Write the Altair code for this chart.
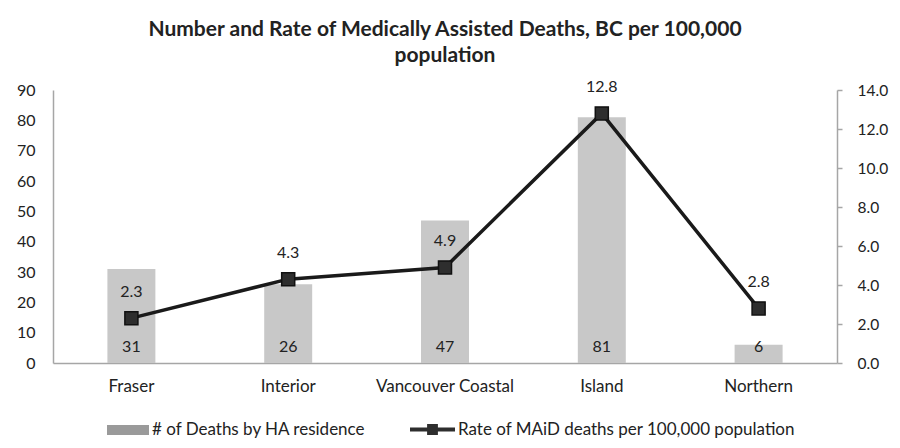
import altair as alt
import pandas as pd

regions = ["Fraser", "Interior", "Vancouver Coastal", "Island", "Northern"]
deaths = [31, 26, 47, 81, 6]
rates = [2.3, 4.3, 4.9, 12.8, 2.8]
left_ticks = [0, 10, 20, 30, 40, 50, 60, 70, 80, 90]
right_ticks = [0, 2, 4, 6, 8, 10, 12, 14]
bar_series = "# of Deaths by HA residence"
line_series = "Rate of MAiD deaths per 100,000 population"
title_lines = ["Number and Rate of Medically Assisted Deaths, BC per 100,000", "population"]

df = pd.DataFrame({"region": regions, "deaths": deaths, "rate": rates})

FONT = "Lato"
TXT = "#222222"
AXC = "#a6a6a6"

x = alt.X(
    "region:N", sort=regions,
    scale=alt.Scale(paddingInner=0.694, paddingOuter=0.347),
    axis=alt.Axis(title=None, labelAngle=0, ticks=False, domainColor=AXC, domainWidth=1.5,
                  labelPadding=15, labelFontSize=17, labelColor=TXT, labelFont=FONT),
)

base = alt.Chart(df).transform_calculate(bseries=f"'{bar_series}'", lseries=f"'{line_series}'", zero="0")

axis_l = alt.Axis(orient="left", title=None, values=left_ticks, ticks=False, grid=False,
                  labelOverlap=False,
                  domainColor=AXC, domainWidth=1.5, labelPadding=18, labelFontSize=16,
                  labelColor=TXT, labelFont=FONT)
scale_l = alt.Scale(domain=[0, 90])
yl = alt.Y("deaths:Q", scale=scale_l, axis=axis_l)

bars = base.mark_bar(color="#c8c8c8").encode(x=x, y=yl)

bar_key = base.mark_bar(opacity=0).encode(
    x=x, y=yl,
    color=alt.Color("bseries:N", scale=alt.Scale(range=["#9a9a9a"]),
                    legend=alt.Legend(title=None, orient="none", legendX=54, legendY=319,
                                      direction="horizontal", padding=0, symbolOpacity=1,
                                      symbolType="M-1,-0.24H1V0.24H-1Z", symbolSize=1764,
                                      symbolStrokeWidth=0, labelFontSize=17, labelFont=FONT,
                                      labelColor=TXT, labelOffset=3, labelLimit=500)),
)

bar_text = base.mark_text(dy=-16, fontSize=16, font=FONT, color=TXT).encode(
    x=x,
    y=alt.Y("zero:Q", scale=scale_l, axis=axis_l),
    text=alt.Text("deaths:Q"),
)

axis_r = alt.Axis(orient="right", title=None, values=right_ticks, format=".1f", ticks=True,
                  labelOverlap=False,
                  tickSize=5, tickColor=AXC, tickWidth=1.5, grid=False, domainColor=AXC,
                  domainWidth=1.5, labelPadding=15, labelFontSize=15.5, labelColor=TXT,
                  labelFont=FONT)
yr = alt.Y("rate:Q", scale=alt.Scale(domain=[0, 14]), axis=axis_r)

line = base.mark_line(color="#1a1a1a", strokeWidth=3.5).encode(x=x, y=yr)

points = base.mark_point(shape="square", filled=True, size=170, opacity=1,
                         stroke="#111111", strokeWidth=1.5).encode(
    x=x, y=yr,
    color=alt.Color("lseries:N", scale=alt.Scale(range=["#2e2e2e"]),
                    legend=alt.Legend(title=None, orient="none", legendX=357, legendY=317,
                                      direction="horizontal", padding=0,
                                      symbolType="M-1,-0.09H1V0.09H-1Z M-0.24,-0.24H0.24V0.24H-0.24Z",
                                      symbolSize=2025, symbolStrokeWidth=0, labelFontSize=17,
                                      labelFont=FONT, labelColor=TXT, labelOffset=3, labelLimit=500)),
)

rate_text = base.mark_text(dy=-26, fontSize=16, font=FONT, color=TXT).encode(
    x=x, y=yr, text=alt.Text("rate:Q", format=".1f"),
)

left = alt.layer(bars, bar_key, bar_text)
right = alt.layer(line, points, rate_text)

chart = alt.layer(left, right).resolve_scale(y="independent", color="independent").properties(
    width=784, height=273,
    autosize=alt.AutoSizeParams(type="none"),
    padding={"left": 45, "top": 82, "right": 55, "bottom": 77},
    title=alt.TitleParams(title_lines, font=FONT, fontSize=21, fontWeight="bold", color=TXT,
                          anchor="middle", frame="group", offset=13, lineHeight=26),
).configure_view(stroke=None)

chart.save("out.html", embed_options={"renderer": "svg", "actions": False})
